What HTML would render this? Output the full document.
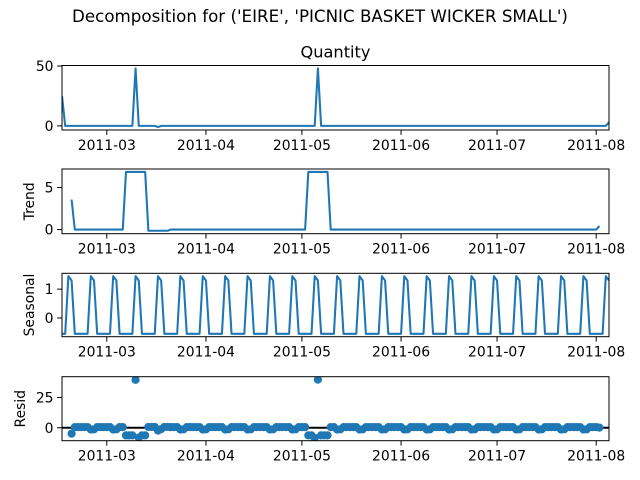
<!DOCTYPE html>
<html><head><meta charset="utf-8"><style>
html,body{margin:0;padding:0;background:#fff;}
svg{display:block;font-family:"DejaVu Sans","Liberation Sans",sans-serif;}
</style></head><body>
<svg id="fig" width="640" height="480" viewBox="0 0 640 480">
<text x="320" y="22" text-anchor="middle" font-size="16.7">Decomposition for ('EIRE', 'PICNIC BASKET WICKER SMALL')</text>
</svg>
<script>
// ---- data ----
const startDate = [2011, 1, 15]; // 2011-02-15
const observed = [
25,0,0,0,0,0,0,0,0,0,
0,0,0,0,0,0,0,0,0,0,
0,0,0,48,0,0,0,0,0,0,
-1,0,0,0,0,0,0,0,0,0,
0,0,0,0,0,0,0,0,0,0,
0,0,0,0,0,0,0,0,0,0,
0,0,0,0,0,0,0,0,0,0,
0,0,0,0,0,0,0,0,0,0,
48,0,0,0,0,0,0,0,0,0,
0,0,0,0,0,0,0,0,0,0,
0,0,0,0,0,0,0,0,0,0,
0,0,0,0,0,0,0,0,0,0,
0,0,0,0,0,0,0,0,0,0,
0,0,0,0,0,0,0,0,0,0,
0,0,0,0,0,0,0,0,0,0,
0,0,0,0,0,0,0,0,0,0,
0,0,0,0,0,0,0,0,0,0,
0,3];
const seasonalPattern = [-0.55,-0.55,1.45,1.3,-0.55,-0.55,-0.55];
const xTickLabels = ['2011-03','2011-04','2011-05','2011-06','2011-07','2011-08'];
const qtyTicks = [0,50];
const trendTicks = [0,5];
const seasonalTicks = [0,1];
const residTicks = [0,25];

// ---- derived series (classical additive decomposition, period 7) ----
const N = observed.length;
const trend = observed.map((v,i)=>{
  if(i<3||i>N-4) return null;
  let s=0; for(let k=-3;k<=3;k++) s+=observed[i+k]; return s/7;
});
const seasonal = observed.map((v,i)=>seasonalPattern[i%7]);
const resid = observed.map((v,i)=>trend[i]===null?null:v-trend[i]-seasonal[i]);

// ---- layout ----
const svg = document.getElementById('fig');
const NS='http://www.w3.org/2000/svg';
const L=62,R=609;
const t0 = Date.UTC(startDate[0],startDate[1],startDate[2]);
function dayOf(label){const p=label.split('-');return (Date.UTC(+p[0],+p[1]-1,1)-t0)/86400000;}
function xs(d){return L+(d/(N-1))*(R-L);}
const color='#1f77b4';
function el(tag,attrs,parent){const e=document.createElementNS(NS,tag);for(const k in attrs)e.setAttribute(k,attrs[k]);(parent||svg).appendChild(e);return e;}

function panel(name,top,bot,series,ticks,ylabel,ylabelX,kind,title){
  const g=el('g',{});
  
  
  const vals=series.filter(v=>v!==null);
  const mn=Math.min(...vals),mx=Math.max(...vals),pad=(mx-mn)*0.05;
  const y0=mn-pad,y1=mx+pad;
  const ys=v=>bot-(v-y0)/(y1-y0)*(bot-top);
  const clip=el('clipPath',{id:'c'+name},g);
  el('rect',{x:L,y:top,width:R-L,height:bot-top},clip);
  if(kind==='scatter'){
    const ln=el('line',{x1:L,x2:R,y1:ys(0),y2:ys(0),stroke:'#000','stroke-width':2.08,'clip-path':'url(#c'+name+')'},g);
    
    
    series.forEach((v,i)=>{
      if(v===null) return;
      const c=el('circle',{cx:xs(i),cy:ys(v),r:4.1,fill:color,'clip-path':'url(#c'+name+')'},g);
      
      
    });
  } else {
    let d='';let pen=false;
    series.forEach((v,i)=>{
      if(v===null){pen=false;return;}
      d+=(pen?'L':'M')+xs(i).toFixed(2)+' '+ys(v).toFixed(2);pen=true;
    });
    const p=el('path',{d:d,fill:'none',stroke:color,'stroke-width':2.08,'stroke-linejoin':'round','clip-path':'url(#c'+name+')'},g);
    
    
  }
  const fr=el('rect',{x:L,y:top,width:R-L,height:bot-top,fill:'none',stroke:'#000','stroke-width':1},g);
  
  
  xTickLabels.forEach(lb=>{
    const x=xs(dayOf(lb));
    el('line',{x1:x,x2:x,y1:bot,y2:bot+4.9,stroke:'#000','stroke-width':1},g);
    const t=el('text',{x:x,y:bot+20,'text-anchor':'middle','font-size':13.9},g);
    t.textContent=lb;
    
    
  });
  ticks.forEach(v=>{
    const y=ys(v);
    el('line',{x1:L-4.9,x2:L,y1:y,y2:y,stroke:'#000','stroke-width':1},g);
    const t=el('text',{x:L-8.5,y:y+5,'text-anchor':'end','font-size':13.9},g);
    t.textContent=String(v);
    
    
  });
  if(ylabel){
    const cy=(top+bot)/2;
    const t=el('text',{x:ylabelX,y:cy,'text-anchor':'middle','font-size':13.9,transform:'rotate(-90 '+ylabelX+' '+cy+')'},g);
    t.textContent=ylabel;
    
    
  }
  if(title){
    const t=el('text',{x:(L+R)/2,y:top-8,'text-anchor':'middle','font-size':16.2},g);
    t.textContent=title;
    
    
  }
}
panel('observed',65.5,130,observed,qtyTicks,null,0,'line','Quantity');
panel('trend',169,233.7,trend,trendTicks,'Trend',34,'line',null);
panel('seasonal',273.3,336.7,seasonal,seasonalTicks,'Seasonal',34,'line',null);
panel('resid',376.7,440.7,resid,residTicks,'Resid',25,'scatter',null);
</script>
</body></html>
